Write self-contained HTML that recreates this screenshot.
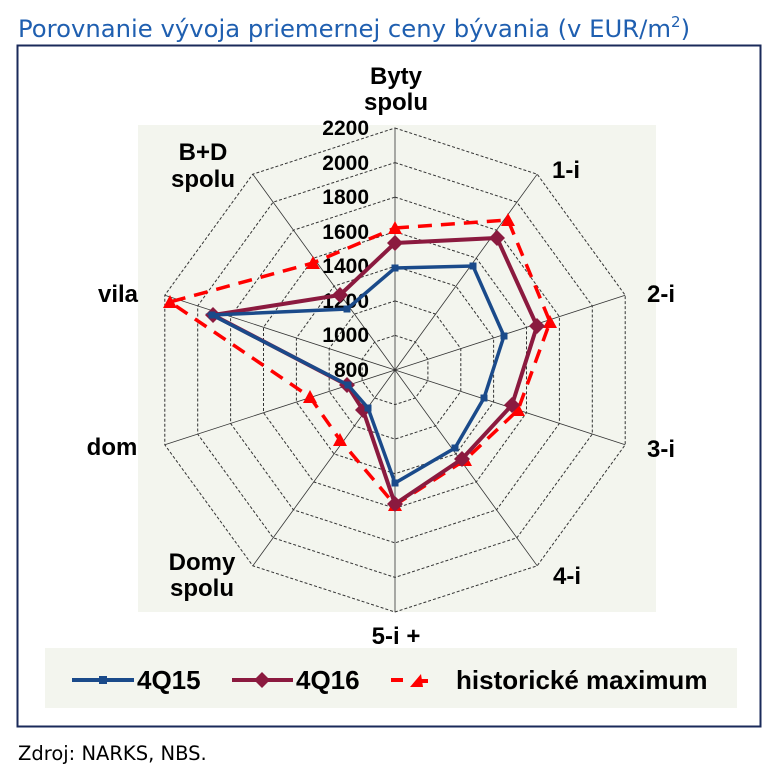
<!DOCTYPE html>
<html><head><meta charset="utf-8"><style>
body{margin:0;background:#fff;width:784px;height:776px;overflow:hidden;font-family:"Liberation Sans",Arial,sans-serif}
</style></head><body>
<svg width="784" height="776" xmlns="http://www.w3.org/2000/svg" xmlns:xlink="http://www.w3.org/1999/xlink" font-family="Liberation Sans, Arial, sans-serif">
<defs>
<path id="tri" d="M-7 6 L0 -7 L7 6Z" fill="#f00"/>
<path id="dia" d="M0 -8 L8 0 L0 8 L-8 0Z" fill="#8b1a3f"/>
<rect id="sq" x="-3.5" y="-3.5" width="7" height="7" fill="#1a4a8a"/>
</defs>
<text x="18" y="37" font-size="24.3" fill="#1f5fb0" font-family="DejaVu Sans, sans-serif">Porovnanie vývoja priemernej ceny bývania (v EUR/m<tspan font-size="15" dy="-10">2</tspan><tspan dy="10">)</tspan></text>
<rect x="17.5" y="45.5" width="743" height="681" fill="#fff" stroke="#1a2a5a" stroke-width="2"/>
<rect x="138" y="125" width="518" height="487" fill="#f3f5ee"/>
<rect x="45" y="648" width="692" height="60" fill="#f3f5ee"/>
<g fill="none" stroke="#333" stroke-width="1" stroke-dasharray="3,2">
<polygon points="395,335.4 415.3,342 427.9,359.3 427.9,380.7 415.3,398 395,404.6 374.7,398 362.1,380.7 362.1,359.3 374.7,342"/>
<polygon points="395,300.9 435.6,314.1 460.8,348.6 460.8,391.4 435.6,425.9 395,439.1 354.4,425.9 329.2,391.4 329.2,348.6 354.4,314.1"/>
<polygon points="395,266.3 456,286.1 493.6,338 493.6,402 456,453.9 395,473.7 334,453.9 296.4,402 296.4,338 334,286.1"/>
<polygon points="395,231.7 476.3,258.1 526.5,327.3 526.5,412.7 476.3,481.9 395,508.3 313.7,481.9 263.5,412.7 263.5,327.3 313.7,258.1"/>
<polygon points="395,197.1 496.6,230.2 559.4,316.6 559.4,423.4 496.6,509.8 395,542.9 293.4,509.8 230.6,423.4 230.6,316.6 293.4,230.2"/>
<polygon points="395,162.6 516.9,202.2 592.3,305.9 592.3,434.1 516.9,537.8 395,577.4 273.1,537.8 197.7,434.1 197.7,305.9 273.1,202.2"/>
<polygon points="395,128 537.2,174.2 625.2,295.2 625.2,444.8 537.2,565.8 395,612 252.8,565.8 164.8,444.8 164.8,295.2 252.8,174.2"/>
</g>
<g stroke="#333" stroke-width="0.8">
<line x1="395" y1="370" x2="395" y2="128"/><line x1="395" y1="370" x2="537.2" y2="174.2"/>
<line x1="395" y1="370" x2="625.2" y2="295.2"/><line x1="395" y1="370" x2="625.2" y2="444.8"/>
<line x1="395" y1="370" x2="537.2" y2="565.8"/><line x1="395" y1="370" x2="395" y2="612"/>
<line x1="395" y1="370" x2="252.8" y2="565.8"/><line x1="395" y1="370" x2="164.8" y2="444.8"/>
<line x1="395" y1="370" x2="164.8" y2="295.2"/><line x1="395" y1="370" x2="252.8" y2="174.2"/>
</g>
<g font-size="21" font-weight="bold" fill="#000" text-anchor="end">
<text x="369" y="377">800</text><text x="369" y="342">1000</text><text x="369" y="308">1200</text>
<text x="369" y="273">1400</text><text x="369" y="239">1600</text><text x="369" y="204">1800</text>
<text x="369" y="170">2000</text><text x="369" y="135">2200</text>
</g>
<polygon points="395,228 508,220 550,322 518,410 465,460 395,505 340,440 310,397 170,302 313,263" fill="none" stroke="#f00" stroke-width="3.5" stroke-dasharray="14,9"/>
<g>
<use xlink:href="#tri" transform="translate(395 228)"/><use xlink:href="#tri" transform="translate(508 220)"/>
<use xlink:href="#tri" transform="translate(550 322)"/><use xlink:href="#tri" transform="translate(518 410)"/>
<use xlink:href="#tri" transform="translate(465 460)"/><use xlink:href="#tri" transform="translate(395 505)"/>
<use xlink:href="#tri" transform="translate(340 440)"/><use xlink:href="#tri" transform="translate(310 397)"/>
<use xlink:href="#tri" transform="translate(170 302)"/><use xlink:href="#tri" transform="translate(313 263)"/>
</g>
<polygon points="395,243 497,238 537,326 512,405 462,459 395,504 363,410 347,385 213,315 340,295" fill="none" stroke="#8b1a3f" stroke-width="4"/>
<g>
<use xlink:href="#dia" transform="translate(395 243)"/><use xlink:href="#dia" transform="translate(497 238)"/>
<use xlink:href="#dia" transform="translate(537 326)"/><use xlink:href="#dia" transform="translate(512 405)"/>
<use xlink:href="#dia" transform="translate(462 459)"/><use xlink:href="#dia" transform="translate(395 504)"/>
<use xlink:href="#dia" transform="translate(363 410)"/><use xlink:href="#dia" transform="translate(347 385)"/>
<use xlink:href="#dia" transform="translate(213 315)"/><use xlink:href="#dia" transform="translate(340 295)"/>
</g>
<polygon points="395,268 473,266 504,336 484,398 455,448 395,483 368,408 348,385 212,315 347,309" fill="none" stroke="#1a4a8a" stroke-width="3.5"/>
<g>
<use xlink:href="#sq" transform="translate(395 268)"/><use xlink:href="#sq" transform="translate(473 266)"/>
<use xlink:href="#sq" transform="translate(504 336)"/><use xlink:href="#sq" transform="translate(484 398)"/>
<use xlink:href="#sq" transform="translate(455 448)"/><use xlink:href="#sq" transform="translate(395 483)"/>
<use xlink:href="#sq" transform="translate(368 408)"/><use xlink:href="#sq" transform="translate(348 385)"/>
<use xlink:href="#sq" transform="translate(212 315)"/><use xlink:href="#sq" transform="translate(347 309)"/>
</g>
<g font-size="24" font-weight="bold" fill="#000" text-anchor="middle">
<text x="396" y="84">Byty</text>
<text x="396" y="110">spolu</text>
<text x="566" y="178">1-i</text>
<text x="661" y="302">2-i</text>
<text x="661" y="457">3-i</text>
<text x="567" y="584">4-i</text>
<text x="396" y="644">5-i +</text>
<text x="202" y="570">Domy</text>
<text x="202" y="596">spolu</text>
<text x="112" y="455">dom</text>
<text x="118" y="302">vila</text>
<text x="203" y="160">B+D</text>
<text x="203" y="187">spolu</text>
</g>
<g>
<line x1="72" y1="680" x2="134" y2="680" stroke="#1a4a8a" stroke-width="4"/>
<rect x="99" y="676" width="8" height="8" fill="#1a4a8a"/>
<text x="137" y="689" font-size="26" font-weight="bold">4Q15</text>
<line x1="232" y1="680" x2="293" y2="680" stroke="#8b1a3f" stroke-width="4"/>
<path d="M262 672 L270 680 L262 688 L254 680Z" fill="#8b1a3f"/>
<text x="296" y="689" font-size="26" font-weight="bold">4Q16</text>
<line x1="391" y1="680" x2="403" y2="680" stroke="#f00" stroke-width="4"/>
<path d="M410 687 L421 674 L423 687Z" fill="#f00"/>
<line x1="420" y1="681" x2="428" y2="681" stroke="#f00" stroke-width="4"/>
<text x="456" y="689" font-size="26" font-weight="bold">historické maximum</text>
</g>
<text x="18" y="760" font-size="19.5" font-family="DejaVu Sans, sans-serif">Zdroj: NARKS, NBS.</text>
</svg>
</body></html>
